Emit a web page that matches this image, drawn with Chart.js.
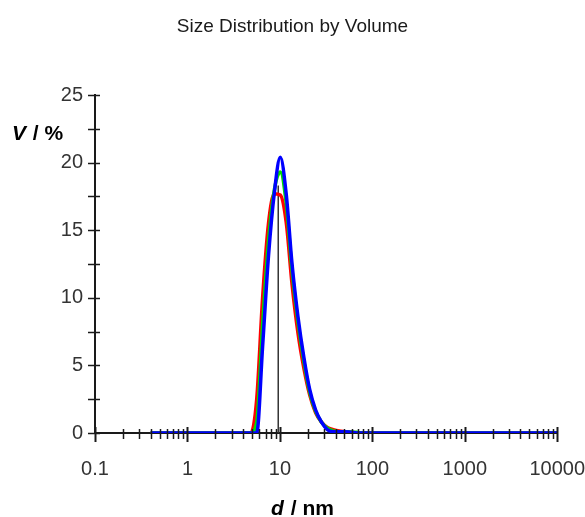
<!DOCTYPE html>
<html>
<head>
<meta charset="utf-8">
<script src="https://cdn.jsdelivr.net/npm/chart.js@4/dist/chart.umd.min.js"></script>
<style>
  html, body { margin: 0; padding: 0; background: #fff; }
  #c { display: block; }
</style>
</head>
<body>
<canvas id="c" width="585" height="517"></canvas>
<script>
// Size bins (nm)
const sizes = [0.4, 0.4632, 0.5365, 0.6213, 0.7195, 0.8332, 0.9649, 1.117, 1.294, 1.499,
  1.736, 2.010, 2.328, 2.696, 3.122, 3.615, 4.187, 4.849, 5.615, 6.503,
  7.531, 8.721, 10.10, 11.70, 13.54, 15.69, 18.17, 21.04, 24.36, 28.21,
  32.67, 37.84, 43.82, 50.75, 58.77, 68.06, 78.82, 91.28, 105.7, 122.4,
  141.8, 164.2, 190.1, 220.2, 255.0, 295.3, 342.0, 396.1, 458.7, 531.2,
  615.1, 712.4, 825.0, 955.4, 1106, 1281, 1484, 1718, 1990, 2305,
  2669, 3091, 3580, 4145, 4801, 5560, 6439, 7456, 8635, 10000];

// Volume % per bin
const blueValues = [0, 0, 0, 0, 0, 0, 0, 0, 0, 0,
  0, 0, 0, 0, 0, 0, 0, 0, 0, 6.4,
  13.1, 17.8, 20.4, 17.7, 12.5, 8.6, 5.6, 3.2, 1.7, 0.8,
  0.25, 0.1, 0.1, 0.1, 0.05, 0, 0, 0, 0, 0,
  0, 0, 0, 0, 0, 0, 0, 0, 0, 0,
  0, 0, 0, 0, 0, 0, 0, 0, 0, 0,
  0, 0, 0, 0, 0, 0, 0, 0, 0, 0];
const greenValues = [0, 0, 0, 0, 0, 0, 0, 0, 0, 0,
  0, 0, 0, 0, 0, 0, 0, 0, 0.8, 8.0,
  14.2, 18.0, 19.3, 17.0, 12.0, 8.2, 5.3, 3.0, 1.6, 0.8,
  0.35, 0.15, 0.1, 0.1, 0.08, 0.05, 0, 0, 0, 0,
  0, 0, 0, 0, 0, 0, 0, 0, 0, 0,
  0, 0, 0, 0, 0, 0, 0, 0, 0, 0,
  0, 0, 0, 0, 0, 0, 0, 0, 0, 0];
const redValues = [0, 0, 0, 0, 0, 0, 0, 0, 0, 0,
  0, 0, 0, 0, 0, 0, 0, 0, 2.5, 10.0,
  15.5, 17.7, 17.6, 15.6, 11.0, 7.4, 4.8, 2.8, 1.5, 0.8,
  0.4, 0.25, 0.15, 0.1, 0.05, 0, 0, 0, 0, 0,
  0, 0, 0, 0, 0, 0, 0, 0, 0, 0,
  0, 0, 0, 0, 0, 0, 0, 0, 0, 0,
  0, 0, 0, 0, 0, 0, 0, 0, 0, 0];

// Vertical marker line
const markerX = [9.6, 9.6];
const markerY = [0, 18.3];

// Tick labels
const xTickLabels = ['0.1', '1', '10', '100', '1000', '10000'];
const yTickLabels = ['0', '5', '10', '15', '20', '25'];

const chartTitle = 'Size Distribution by Volume';
const xTitleItalic = 'd', xTitleRest = ' / nm';
const yTitleItalic = 'V', yTitleRest = ' / %';

const toPts = (xs, ys) => xs.map((x, i) => ({ x: x, y: ys[i] }));

const xTickValues = [];
for (let e = -1; e <= 3; e++) {
  for (let m = 1; m <= 9; m++) xTickValues.push(+(m * Math.pow(10, e)).toPrecision(3));
}
xTickValues.push(10000);

const FONT = '"Liberation Sans", Arial, sans-serif';

const deco = {
  id: 'deco',
  afterDraw(chart) {
    const { ctx, chartArea: ca, scales: { x, y } } = chart;
    ctx.save();
    ctx.strokeStyle = '#1a1a1a';
    ctx.lineWidth = 1.5;
    // y ticks crossing the axis
    y.ticks.forEach(t => {
      const py = Math.round(y.getPixelForValue(t.value)) + 0.5;
      ctx.beginPath(); ctx.moveTo(ca.left - 7, py); ctx.lineTo(ca.left + 5, py); ctx.stroke();
    });
    // x ticks crossing the axis
    x.ticks.forEach(t => {
      const px = Math.round(x.getPixelForValue(t.value)) + 0.5;
      const major = xTickLabels.includes(String(t.value));
      ctx.lineWidth = major ? 2 : 1.5;
      ctx.beginPath();
      ctx.moveTo(px, ca.bottom - (major ? 6 : 4));
      ctx.lineTo(px, ca.bottom + (major ? 9 : 6));
      ctx.stroke();
    });
    // axis titles
    ctx.fillStyle = '#000';
    ctx.textBaseline = 'alphabetic';
    ctx.textAlign = 'left';
    const drawMixed = (it, rest, cx, by, centered) => {
      ctx.font = 'italic bold 21px ' + FONT;
      const w1 = ctx.measureText(it).width;
      ctx.font = 'bold 21px ' + FONT;
      const w2 = ctx.measureText(rest).width;
      let sx = centered ? cx - (w1 + w2) / 2 : cx;
      ctx.font = 'italic bold 21px ' + FONT;
      ctx.fillText(it, sx, by);
      ctx.font = 'bold 21px ' + FONT;
      ctx.fillText(rest, sx + w1 + 1, by);
    };
    drawMixed(xTitleItalic, xTitleRest, 302, 515, true);
    drawMixed(yTitleItalic, yTitleRest, 12, 140, false);
    ctx.restore();
  }
};

new Chart(document.getElementById('c'), {
  type: 'line',
  data: {
    datasets: [
      { label: 'blue', data: toPts(sizes, blueValues), borderColor: '#0000ff', borderWidth: 3.5, pointRadius: 0, cubicInterpolationMode: 'monotone', order: 1 },
      { label: 'green', data: toPts(sizes, greenValues), borderColor: '#00e000', borderWidth: 3.5, pointRadius: 0, cubicInterpolationMode: 'monotone', order: 2 },
      { label: 'red', data: toPts(sizes, redValues), borderColor: '#ff0000', borderWidth: 3.5, pointRadius: 0, cubicInterpolationMode: 'monotone', order: 3 },
      { label: 'marker', data: toPts(markerX, markerY), borderColor: '#333333', borderWidth: 1.5, pointRadius: 0, order: 4 }
    ]
  },
  options: {
    responsive: false,
    animation: false,
    layout: { padding: { left: 0, right: 0, top: 0, bottom: 0 } },
    plugins: {
      legend: { display: false },
      tooltip: { enabled: false },
      title: {
        display: true,
        text: chartTitle,
        color: '#1a1a1a',
        font: { family: FONT, size: 19, weight: 'normal', lineHeight: 1.2 },
        padding: { top: 15, bottom: 95 - 15 - 19 * 1.2 }
      }
    },
    scales: {
      x: {
        type: 'logarithmic',
        min: 0.1,
        max: 10000,
        afterBuildTicks: s => { s.ticks = xTickValues.map(v => ({ value: v })); },
        afterFit: s => { s.height = 84; },
        grid: { display: false, drawTicks: true, tickLength: 24 },
        border: { display: true, color: '#1a1a1a', width: 2 },
        ticks: {
          autoSkip: false,
          maxRotation: 0,
          minRotation: 0,
          padding: 0,
          color: '#333',
          font: { family: FONT, size: 20 },
          callback: v => (xTickLabels.includes(String(v)) ? String(v) : '')
        }
      },
      y: {
        min: 0,
        max: 25,
        afterFit: s => { s.width = 95; },
        grid: { display: false, drawTicks: false },
        border: { display: true, color: '#1a1a1a', width: 2 },
        ticks: {
          stepSize: 2.5,
          padding: 12,
          color: '#333',
          font: { family: FONT, size: 20 },
          callback: v => (yTickLabels.includes(String(v)) ? String(v) : '')
        }
      }
    }
  },
  plugins: [deco]
});
</script>
</body>
</html>
